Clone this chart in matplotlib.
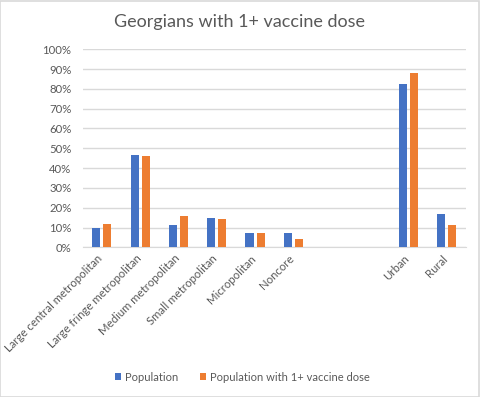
import matplotlib.pyplot as plt
import numpy as np
from matplotlib.patches import Rectangle

plt.rcParams['font.family'] = ['Lato', 'DejaVu Sans']

categories = ['Large central metropolitan', 'Large fringe metropolitan',
              'Medium metropolitan', 'Small metropolitan', 'Micropolitan',
              'Noncore', '', '', 'Urban', 'Rural']
population = [9.8, 46.6, 11.3, 14.8, 7.2, 7.2, np.nan, np.nan, 82.5, 16.8]
vaccinated = [11.8, 46.1, 15.8, 14.3, 7.2, 4.2, np.nan, np.nan, 88.0, 11.3]
yticks = list(range(0, 101, 10))

blue = '#4472C4'
orange = '#ED7D31'
grid = '#D9D9D9'
text_gray = '#595959'

fig = plt.figure(figsize=(4.8, 3.97), dpi=100)
ax = fig.add_axes([0.1723, 0.377, 0.7977, 0.499])

x = np.arange(len(categories))
w = 0.21
off = 0.144
ax.bar(x - off, population, w, color=blue, label='Population', zorder=3)
ax.bar(x + off, vaccinated, w, color=orange, label='Population with 1+ vaccine dose', zorder=3)

ax.set_xlim(-0.5, len(categories) - 0.5)
ax.set_ylim(0, 100)
ax.set_yticks(yticks)
ax.set_yticklabels([f'{t}%' for t in yticks], color=text_gray, fontsize=8.2)
ax.yaxis.grid(True, color=grid, linewidth=1, zorder=0)
ax.tick_params(axis='y', length=0, pad=8)
ax.tick_params(axis='x', length=0, pad=4)
ax.set_xticks(x + 0.08)
ax.set_xticklabels(categories, rotation=45, ha='right', va='top',
                   color=text_gray, fontsize=8.2)
for s in ['top', 'right', 'left']:
    ax.spines[s].set_visible(False)
ax.spines['bottom'].set_color(grid)

fig.text(0.5, 0.945, 'Georgians with 1+ vaccine dose', ha='center', va='center',
         fontsize=13, color=text_gray)

leg = fig.legend(loc='center', bbox_to_anchor=(0.505, 0.05), ncol=2, frameon=False,
                 fontsize=8, handlelength=0.55, handleheight=0.55, handletextpad=0.3,
                 columnspacing=2.0)
for t in leg.get_texts():
    t.set_color(text_gray)

fig.patches.append(Rectangle((0.001, 0.001), 0.997, 0.997, transform=fig.transFigure,
                             fill=False, edgecolor=grid, linewidth=1.2))

fig.savefig('out.png', dpi=100)
